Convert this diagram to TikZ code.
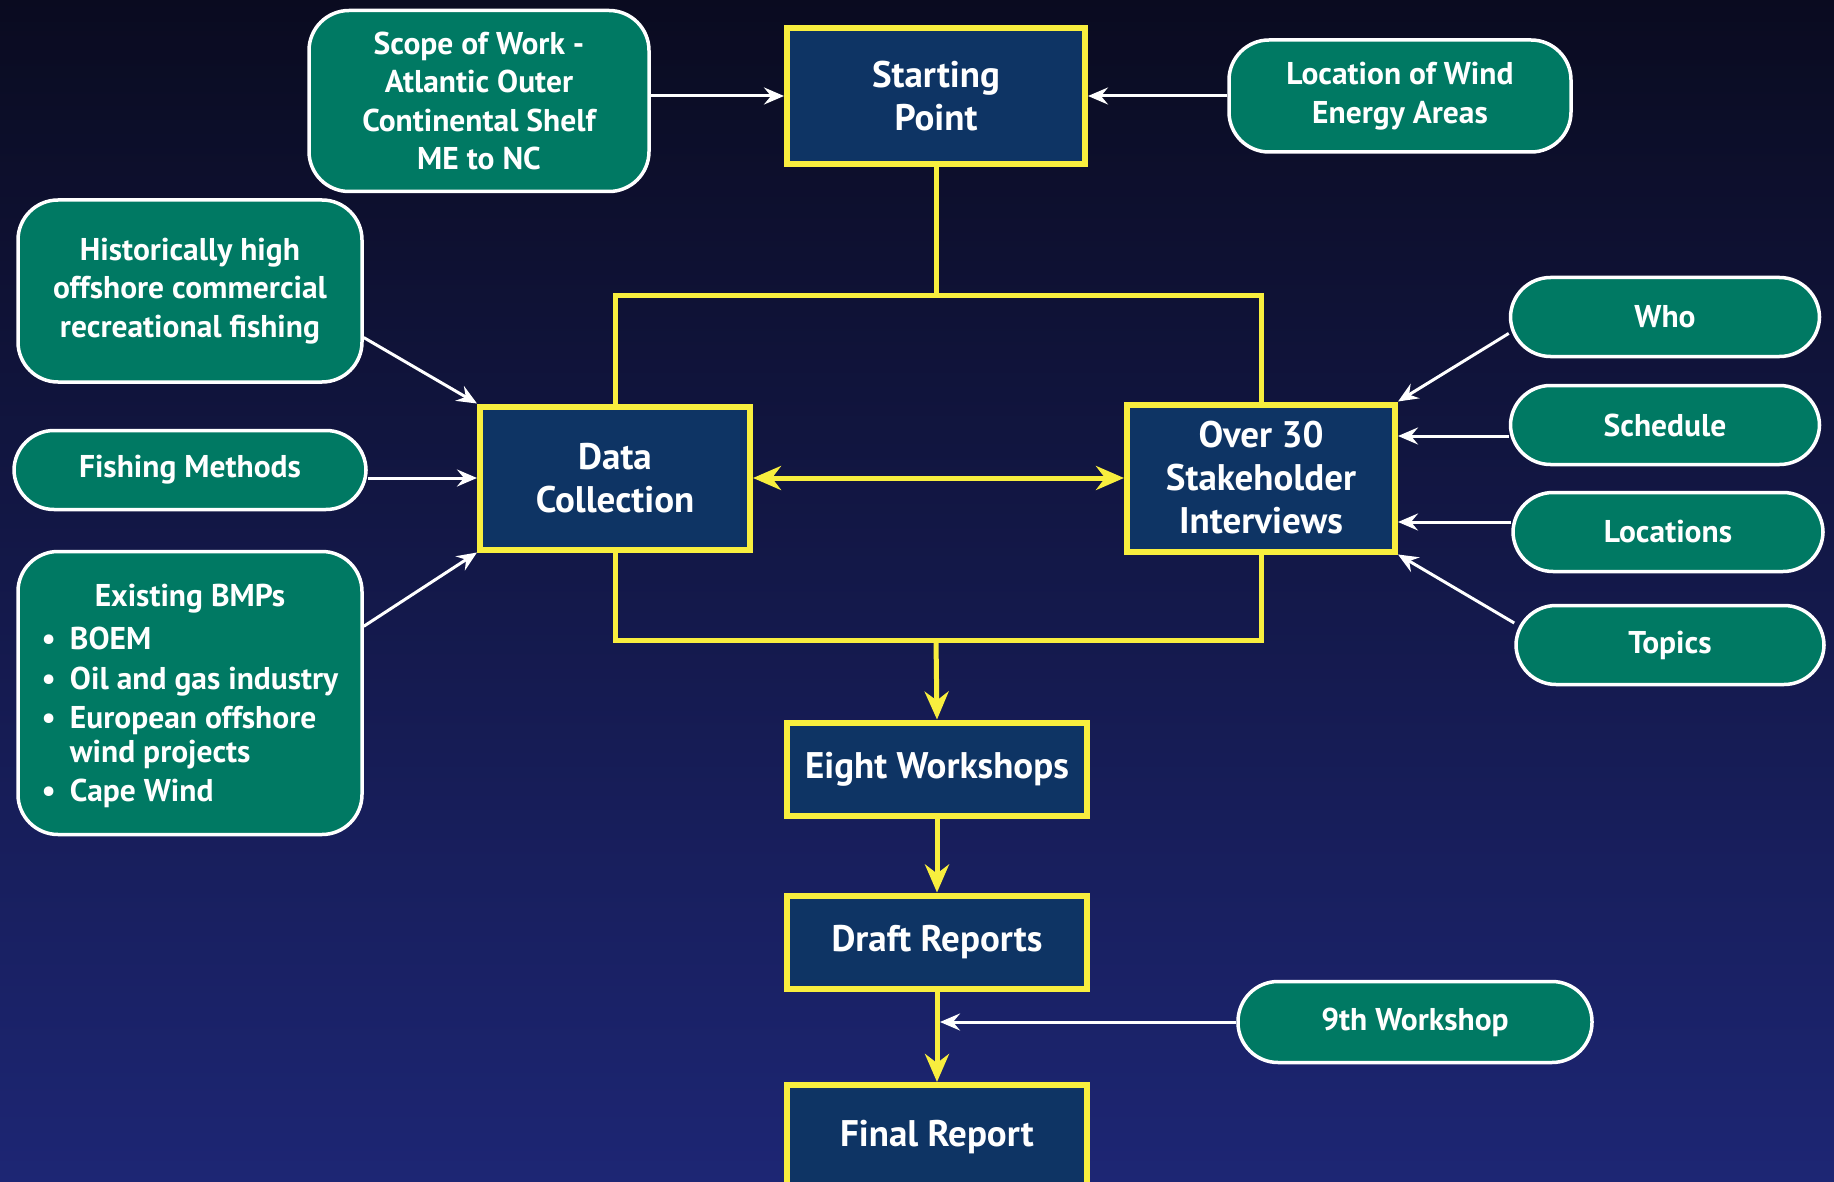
\documentclass[tikz,border=0pt]{standalone}
\usepackage{fontspec}
\setmainfont{PT Sans}
\usetikzlibrary{positioning,arrows.meta,calc}

\definecolor{bgtop}{RGB}{10,11,32}
\definecolor{bgbot}{RGB}{29,38,116}
\definecolor{boxblue}{RGB}{14,52,100}
\definecolor{boxgreen}{RGB}{0,121,99}
\definecolor{lineyellow}{RGB}{248,238,62}

\tikzset{
  stepbox/.style={draw=lineyellow, line width=6pt, fill=boxblue, text=white, align=center,
    minimum width=298pt, font=\fontsize{37}{43}\selectfont\bfseries},
  topicbox/.style={draw=white, line width=3.5pt, fill=boxgreen, text=white, align=center,
    rounded corners=40pt, font=\fontsize{31.5}{38.5}\selectfont\bfseries},
  feed/.style={draw=white, line width=3pt, -{Stealth[length=20pt,width=17pt,inset=7pt]}},
  flow/.style={draw=lineyellow, line width=5pt, >={Stealth[length=28pt,width=24pt,inset=9pt]}},
}

\begin{document}
\begin{tikzpicture}[x=1pt, y=-1pt]
    \useasboundingbox (0,0) rectangle (1834,1182);
    \clip (0,0) rectangle (1834,1182);
    \shade[top color=bgtop, bottom color=bgbot] (0,0) rectangle (1834,1182);

    % main steps
    \node[stepbox, minimum height=136pt] (start) at (936,96) {Starting\\Point};
    \node[stepbox, minimum width=270pt, minimum height=143pt] (data) at (615,478) {Data\\Collection};
    \node[stepbox, minimum width=268pt, minimum height=147pt] (inter) at (1261,478) {Over 30\\Stakeholder\\Interviews};
    \node[stepbox, minimum width=300pt, minimum height=93pt] (eight) at (937,769) {Eight Workshops};
    \node[stepbox, minimum width=300pt, minimum height=93pt] (draft) at (937,942) {Draft Reports};
    \node[stepbox, minimum width=300pt, minimum height=104pt] (final) at (937,1137) {Final Report};

    % inputs
    \node[topicbox, minimum width=340pt, minimum height=181pt] (scope) at (479,101) {Scope of Work -\\Atlantic Outer\\Continental Shelf\\ME to NC};
    \node[topicbox, minimum width=342pt, minimum height=112pt] (windarea) at (1400,96) {Location of Wind\\Energy Areas};
    \node[topicbox, minimum width=344pt, minimum height=182pt] (history) at (190,291) {Historically high\\offshore commercial\\recreational fishing};
    \node[topicbox, minimum width=352pt, minimum height=79pt] (methods) at (190,470) {Fishing Methods};
    \node[topicbox, minimum width=344pt, minimum height=283pt] (bmps) at (190,693)
      {\rule{0pt}{34pt}Existing BMPs\\[8pt]
       \begin{tabular}{@{}l@{\hspace{14pt}}l@{}}
         \textbullet & BOEM\\[1pt]
         \textbullet & Oil and gas industry\\[1pt]
         \textbullet & European offshore\\[-5pt]
                     & wind projects\\[1pt]
         \textbullet & Cape Wind
       \end{tabular}};
    \node[topicbox, minimum width=309pt, minimum height=79pt] (who) at (1665,317) {Who};
    \node[topicbox, minimum width=309pt, minimum height=79pt] (sched) at (1665,425) {Schedule};
    \node[topicbox, minimum width=310pt, minimum height=79pt] (locs) at (1668,532) {Locations};
    \node[topicbox, minimum width=308pt, minimum height=79pt] (topics) at (1670,645) {Topics};
    \node[topicbox, minimum width=354pt, minimum height=81pt] (ninth) at (1415,1022) {9th Workshop};

    % yellow frame
    \coordinate (topbar) at (936,296);
    \coordinate (botbar) at (936,640);
    \draw[flow] (start.south) -- (topbar);
    \draw[flow] (data.north) |- (topbar) -| (inter.north);
    \draw[flow] (data.south) |- (botbar) -| (inter.south);
    \draw[flow, <->] (data.east) -- (inter.west);
    \draw[flow, ->] (botbar) -- (eight.north);
    \draw[flow, ->] (eight) -- (draft);
    \draw[flow, ->] (draft) -- (final);

    % white feeds
    \draw[feed] (scope.east |- start.west) -- (start.west);
    \draw[feed] (windarea.west) -- (start.east);
    \draw[feed] (history.-15) -- (data.north west);
    \draw[feed] (methods.east |- data.west) -- (data.west);
    \draw[feed] (bmps.21) -- (data.south west);
    \draw[feed] (who.186) -- (inter.north east);
    \draw[feed] ([yshift=-11pt]sched.west) -- ([yshift=-11pt]sched.west -| inter.east);
    \draw[feed] ([yshift=10pt]locs.west) -- ([yshift=10pt]locs.west -| inter.east);
    \draw[feed] ([yshift=22pt]topics.west) -- (inter.south east);
    \draw[feed, shorten >=3pt] (ninth.west) -- (ninth.west -| draft.south);
\end{tikzpicture}
\end{document}
